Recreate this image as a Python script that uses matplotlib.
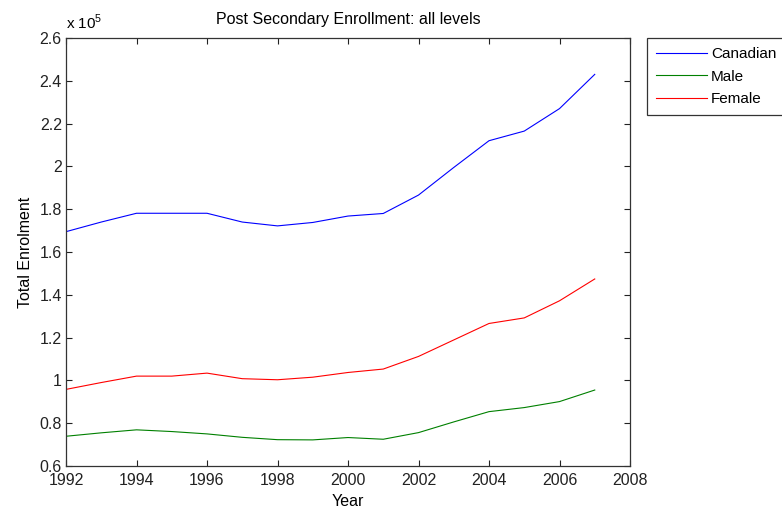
import numpy as np
import matplotlib
matplotlib.use('Agg')
from matplotlib import pyplot as plt
from matplotlib.ticker import FuncFormatter

plt.rcParams['font.family'] = ['Liberation Sans', 'DejaVu Sans']
plt.rcParams['mathtext.fontset'] = 'custom'
plt.rcParams['mathtext.rm'] = 'Liberation Sans'

years = [1992, 1993, 1994, 1995, 1996, 1997, 1998, 1999,
         2000, 2001, 2002, 2003, 2004, 2005, 2006, 2007]
canadian = [169500, 174000, 178100, 178100, 178100, 174000, 172200, 173800,
            176800, 178000, 186600, 199500, 212000, 216500, 227000, 243000]
male = [73900, 75500, 76900, 76100, 75000, 73400, 72300, 72200,
        73300, 72500, 75600, 80600, 85400, 87300, 90100, 95500]
female = [95800, 99000, 102000, 102000, 103400, 100800, 100300, 101500,
          103700, 105300, 111200, 118900, 126600, 129200, 137200, 147400]

fig = plt.figure(figsize=(7.82, 5.12), dpi=100)
ax = fig.add_axes([66/782, 46/512, 564/782, 428/512])

ax.plot(years, canadian, color=(0, 0, 1), lw=0.8, label='Canadian')
ax.plot(years, male, color=(0, 0.5, 0), lw=0.8, label='Male')
ax.plot(years, female, color=(1, 0, 0), lw=0.8, label='Female')

ax.set_xlim(1992, 2008)
ax.set_ylim(60000, 260000)
ax.set_xticks(range(1992, 2009, 2))
ax.set_yticks(np.arange(60000, 260001, 20000))
ax.yaxis.set_major_formatter(FuncFormatter(lambda v, p: '%g' % round(v / 1e5, 2)))
ax.tick_params(direction='in', top=True, right=True, length=4, width=0.8,
               labelsize=11.5, colors='#222222')
ax.tick_params(axis='x', pad=5)
ax.tick_params(axis='y', pad=3)
for s in ax.spines.values():
    s.set_color('#333333')
    s.set_linewidth(0.9)

ax.set_title('Post Secondary Enrollment: all levels', fontsize=11.5, pad=10)
ax.set_xlabel('Year', fontsize=11.5, labelpad=4)
ax.set_ylabel('Total Enrolment', fontsize=11.5, labelpad=5)
ax.text(0.0, 1.014, r'x 10$^{5}$', transform=ax.transAxes, fontsize=11,
        ha='left', va='bottom')

leg = ax.legend(loc='upper left', bbox_to_anchor=(647/782, 474/512),
                bbox_transform=fig.transFigure, fontsize=11, frameon=True,
                fancybox=False, handlelength=3.3, handletextpad=0.3,
                labelspacing=0.55, borderpad=0.6, borderaxespad=0)
leg.get_frame().set_edgecolor('black')
leg.get_frame().set_linewidth(0.9)

fig.savefig('out.png', dpi=100)
